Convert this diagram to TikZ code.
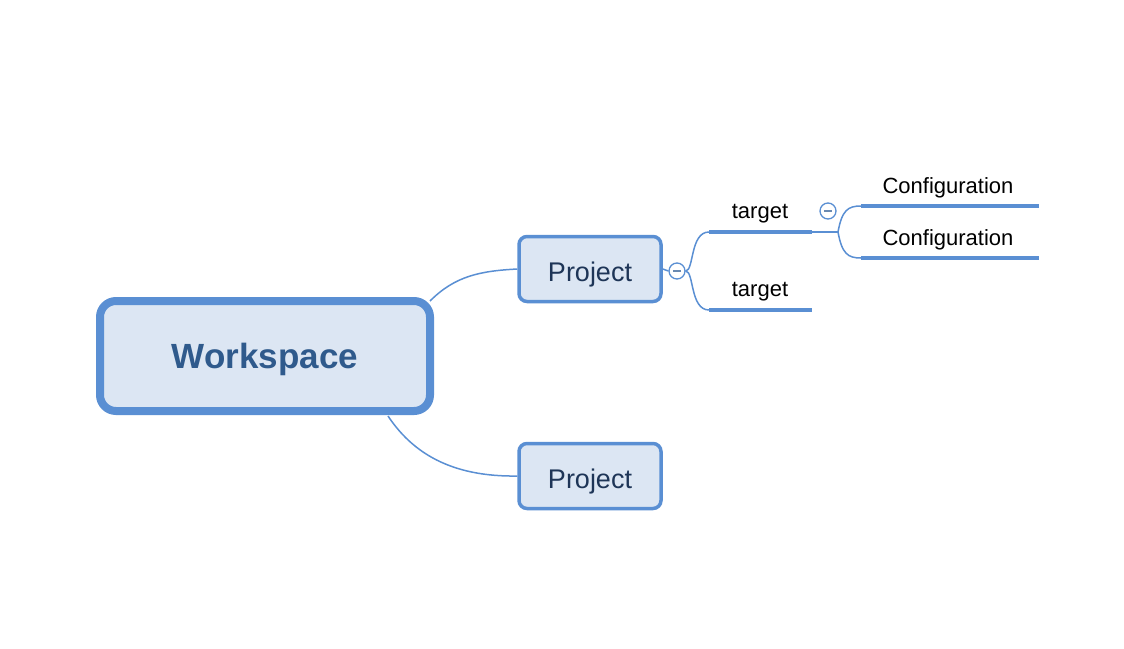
\documentclass[tikz,border=0pt]{standalone}
\usepackage{fontspec}
\setmainfont{Liberation Sans}
\usepackage{xcolor}
\usepackage{tikz}
\usetikzlibrary{calc}
\definecolor{mapblue}{HTML}{5A8FD3}
\definecolor{mapfill}{HTML}{DCE6F3}
\definecolor{wstext}{HTML}{2F5A8C}
\definecolor{prtext}{HTML}{1E3557}
\begin{document}
\begin{tikzpicture}[x=1pt,y=-1pt,
   root/.style={draw=mapblue,fill=mapfill,line width=8pt,rounded corners=16pt,minimum width=330pt,minimum height=110pt,text height=28pt,text depth=4pt,text=wstext,font=\fontsize{35}{40}\bfseries\selectfont},
   proj/.style={draw=mapblue,fill=mapfill,line width=3.5pt,rounded corners=8pt,minimum width=142pt,minimum height=65pt,text height=26pt,text depth=2pt,text=prtext,font=\fontsize{27}{30}\selectfont},
   leaf/.style={inner sep=0pt,anchor=base,font=\fontsize{22}{24}\selectfont},
   uline/.style={mapblue,line width=4pt},
   branch/.style={mapblue,line width=1.5pt},
   fold/.style={circle,draw=mapblue,fill=white,line width=1.3pt,minimum size=16pt,inner sep=0pt}]
\useasboundingbox (0,0) rectangle (1124,648);
%% main topics
\node[root] (ws) at (265,356) {Workspace};
\node[proj] (p1) at (590,269) {Project};
\node[proj] (p2) at (590,476) {Project};
\draw[branch] (ws.north east) ++(-4,4) coordinate (w1) .. controls (455,276) and (480,271) .. (p1.west);
\draw[branch] (388,416) coordinate (w2) .. controls (412,452) and (450,477) .. (p2.west);
%% subtopics
\node[fold] (f1) at (677,271) {};
\draw[mapblue!60!gray,line width=1.3pt] (673,271) -- (681,271);
\draw[branch] (p1.east) -- (f1.west);
\node[leaf] (t1) at (760,218) {target};
\node[leaf] (t2) at (760,296) {target};
\coordinate (t1a) at (709,232); \coordinate (t1b) at (812,232);
\coordinate (t2a) at (709,310); \coordinate (t2b) at (812,310);
\draw[uline] (t1a) -- (t1b);
\draw[uline] (t2a) -- (t2b);
\draw[branch] (f1.east) .. controls (694,271) and (690,232) .. (t1a);
\draw[branch] (f1.east) .. controls (694,271) and (690,310) .. (t2a);
%% configurations
\node[fold] (f2) at (828,211) {};
\draw[mapblue!60!gray,line width=1.3pt] (824,211) -- (832,211);
\node[leaf] (c1) at (948,193.5) {Configuration};
\node[leaf] (c2) at (948,245) {Configuration};
\coordinate (c1a) at (861,206); \coordinate (c1b) at (1039,206);
\coordinate (c2a) at (861,258); \coordinate (c2b) at (1039,258);
\coordinate (j2) at (838,232);
\draw[uline] (c1a) -- (c1b);
\draw[uline] (c2a) -- (c2b);
\draw[branch] (t1b) -- (j2);
\draw[branch] (j2) .. controls (842,210) and (848,206) .. (c1a);
\draw[branch] (j2) .. controls (842,254) and (848,258) .. (c2a);
\end{tikzpicture}
\end{document}
